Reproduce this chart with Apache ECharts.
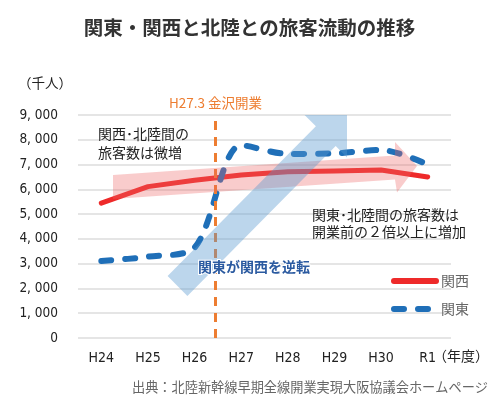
<!DOCTYPE html>
<html><head><meta charset="utf-8">
<script src="https://cdn.jsdelivr.net/npm/echarts@6/dist/echarts.min.js"></script>
<style>html,body{margin:0;padding:0;background:#fff}#c{width:499px;height:402px}</style>
</head><body><div id="c"></div>
<script>
const years = ['H24','H25','H26','H27','H28','H29','H30','R1'];
const kansai = [5440, 6110, 6370, 6580, 6710, 6740, 6780, 6500];
const kanto = [3110, 3280, 3650, 7780, 7430, 7450, 7590, 7000];
const yMin = 0, yMax = 9000, yStep = 1000;
const openingPos = 2.45;            // between H26 and H27 (index scale)
const openingLabel = 'H27.3 金沢開業';
const title = '関東・関西と北陸との旅客流動の推移';
const yUnit = '（千人）';
const xUnit = '（年度）';
const source = '出典：北陸新幹線早期全線開業実現大阪協議会ホームページ';
const noteKansai = '関西･北陸間の\n旅客数は微増';
const noteKanto = '関東･北陸間の旅客数は\n開業前の２倍以上に増加';
const noteReverse = '関東が関西を逆転';

const NARROW = "'Liberation Sans Narrow','DejaVu Sans Condensed','Noto Sans CJK JP',sans-serif";
const JP = "'Noto Sans CJK JP','Noto Sans',sans-serif";

function fmt(v){ const s = String(v); return s.length > 3 ? s.slice(0, s.length-3) + ', ' + s.slice(-3) : s; }

// arrow polygons (annotations)
function blueArrow(){
  const T=[347,115], L=30, hw=14, B=[177.5,286];
  const u=[Math.SQRT1_2,-Math.SQRT1_2], n=[Math.SQRT1_2,Math.SQRT1_2];
  const H=[T[0]-L*u[0], T[1]-L*u[1]];
  const p=(P,a,v)=>[P[0]+a*v[0], P[1]+a*v[1]];
  return [p(B,-hw,n), p(H,-hw,n), [T[0]-L*Math.SQRT2, T[1]], T, [T[0], T[1]+L*Math.SQRT2], p(H,hw,n), p(B,hw,n)];
}
function pinkArrow(){
  return [[113,175],[395,155.5],[395,142],[417,166],[397,192.5],[395,179.5],[113,199]];
}

const chart = echarts.init(document.getElementById('c'));
chart.setOption({
  animation:false,
  title:{text:title,left:'center',top:13,textStyle:{fontFamily:JP,fontSize:19.5,fontWeight:'bold',color:'#333'}},
  grid:{left:78,right:48,top:115,bottom:64},
  legend:{
    data:['関西','関東'],orient:'vertical',left:386,top:269,itemWidth:42,itemHeight:14,itemGap:14,
    itemStyle:{opacity:0},
    lineStyle:{width:6,cap:'round'},
    textStyle:{fontFamily:JP,fontSize:14,color:'#666'}
  },
  xAxis:[{
    type:'category',data:years,boundaryGap:true,
    axisLine:{show:false},axisTick:{show:false},
    axisLabel:{margin:13,fontFamily:NARROW,fontSize:14,color:'#222'}
  },{
    type:'value',min:-0.5,max:7.5,show:false
  }],
  yAxis:{
    type:'value',min:yMin,max:yMax,interval:yStep,
    axisLine:{show:false},axisTick:{show:false},
    axisLabel:{margin:20,fontFamily:NARROW,fontSize:13.5,color:'#222',formatter:fmt},
    splitLine:{lineStyle:{color:'#dcdcdc',width:1.5}}
  },
  series:[
    {name:'関西',type:'line',data:kansai,symbol:'none',z:3,
     lineStyle:{color:'#ee2a2a',width:5,cap:'round',join:'round'},itemStyle:{color:'#ee2a2a'}},
    {name:'関東',type:'line',data:kanto,symbol:'none',smooth:0.3,z:4,
     lineStyle:{color:'#1f6fb8',width:6,type:[10,14],cap:'round',join:'round'},itemStyle:{color:'#1f6fb8'}},
    {name:'opening',type:'line',xAxisIndex:1,data:[],silent:true,
     markLine:{silent:true,symbol:['none','none'],
       lineStyle:{color:'#ed7d31',width:3,type:[9,7]},
       label:{show:true,position:'end',distance:5,formatter:openingLabel,fontFamily:JP,fontSize:13.5,color:'#ed7d31'},
       data:[{xAxis:openingPos}]}}
  ],
  graphic:[
    {type:'polygon',z:100,shape:{points:pinkArrow()},style:{fill:'rgba(238,100,100,0.33)'}},
    {type:'polygon',z:101,shape:{points:blueArrow()},style:{fill:'rgba(87,152,207,0.4)'}},
    {type:'text',z:110,left:18,top:76,style:{text:yUnit,fontFamily:JP,fontSize:13.5,fill:'#222'}},
    {type:'text',z:110,left:98,top:124,style:{text:noteKansai,fontFamily:JP,fontSize:14,lineHeight:19,fill:'#222'}},
    {type:'text',z:110,left:312,top:206,style:{text:noteKanto,fontFamily:JP,fontSize:14,lineHeight:17,fill:'#222'}},
    {type:'text',z:110,left:197,top:259,style:{text:noteReverse,fontFamily:JP,fontSize:14,fontWeight:'bold',fill:'#2b5aa0',stroke:'#fff',lineWidth:2}},
    {type:'text',z:110,left:433,top:349,style:{text:xUnit,fontFamily:JP,fontSize:14,fill:'#222'}},
    {type:'text',z:110,right:11,top:380,style:{text:source,fontFamily:JP,fontSize:13.2,fill:'#666'}}
  ]
});
</script></body></html>
